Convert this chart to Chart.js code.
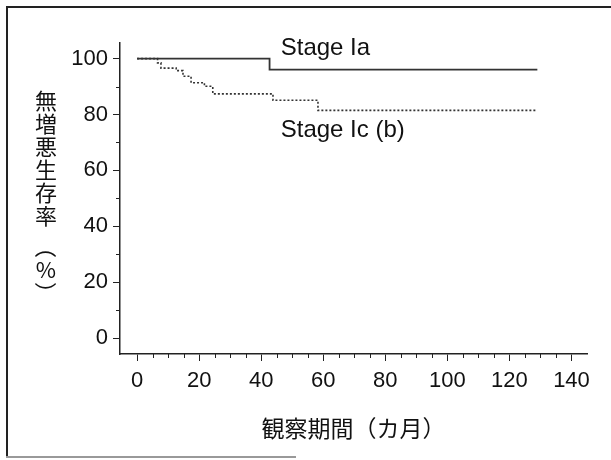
<!DOCTYPE html>
<html>
<head>
<meta charset="utf-8">
<script src="https://cdn.jsdelivr.net/npm/chart.js@4.4.1/dist/chart.umd.min.js"></script>
<style>
    body { margin: 0; background: #fff; }
    #wrap { position: relative; width: 611px; height: 460px; }
    #frame {
        position: absolute; left: 6px; top: 6px; width: 605px; height: 452px;
        border-left: 2px solid #222; border-top: 2px solid #222; box-sizing: border-box;
    }
    #frameBottom { position: absolute; left: 6px; top: 456px; width: 290px; border-top: 2px solid #999; }
</style>
</head>
<body>
<div id="wrap">
    <canvas id="survivalChart" width="611" height="460"></canvas>
    <div id="frame"></div>
    <div id="frameBottom"></div>
</div>
<script>
// Progression-free survival (months, %)
const stageIaMonths = [0, 42.7, 129];
const stageIaRates  = [100, 96.1, 96.1];
const stageIcMonths = [0, 6.6, 7.7, 12.6, 14.8, 17.4, 21.7, 24.4, 43.8, 58.3, 129];
const stageIcRates  = [100, 98.5, 96.6, 95.7, 93.7, 91.4, 90.1, 87.4, 85.1, 81.5, 81.5];

const xTicks = [0, 20, 40, 60, 80, 100, 120, 140];
const yTicks = [0, 20, 40, 60, 80, 100];
const xMinorTicks = [5, 10, 15, 25, 30, 35, 45, 50, 55, 65, 70, 75, 85, 90, 95, 105, 110, 115, 125, 130, 135];
const yMinorTicks = [10, 30, 50, 70, 90];

const seriesNames = ['Stage Ia', 'Stage Ic (b)'];
const xTitle = '観察期間（カ月）';
const yTitle = '無増悪生存率（%）';

const ink = '#222';
const latinFont = '"Liberation Sans", Arial, sans-serif';
const cjkFont = '"Noto Sans CJK JP", sans-serif';

function toPoints(xs, ys) {
    return xs.map((x, i) => ({ x: x, y: ys[i] }));
}

// short minor tick marks outside the axes
const minorTicks = {
    id: 'minorTicks',
    afterDraw(chart) {
        const ctx = chart.ctx;
        const xs = chart.scales.x, ys = chart.scales.y;
        ctx.save();
        ctx.strokeStyle = ink;
        ctx.lineWidth = 1;
        ctx.beginPath();
        xMinorTicks.forEach(v => {
            const px = Math.round(xs.getPixelForValue(v)) + 0.5;
            ctx.moveTo(px, xs.top);
            ctx.lineTo(px, xs.top + 4);
        });
        yMinorTicks.forEach(v => {
            const py = Math.round(ys.getPixelForValue(v)) + 0.5;
            ctx.moveTo(ys.right, py);
            ctx.lineTo(ys.right - 4, py);
        });
        ctx.stroke();
        ctx.restore();
    }
};

// y title written top-to-bottom, brackets turned sideways
const verticalTitle = {
    id: 'verticalTitle',
    afterDraw(chart) {
        const ctx = chart.ctx;
        ctx.save();
        ctx.fillStyle = '#111';
        ctx.font = '22px ' + cjkFont;
        ctx.textAlign = 'center';
        ctx.textBaseline = 'middle';
        let y = 101;
        [...yTitle].forEach(ch => {
            if (ch === '（') y += 8;
            if (ch === '（' || ch === '）') {
                ctx.save();
                ctx.translate(46, y);
                ctx.rotate(Math.PI / 2);
                ctx.fillText(ch, 0, 0);
                ctx.restore();
            } else {
                ctx.fillText(ch, 46, y);
            }
            y += 23;
        });
        ctx.restore();
    }
};

// curve labels placed in data space
const seriesLabels = {
    id: 'seriesLabels',
    afterDraw(chart) {
        const ctx = chart.ctx;
        const xs = chart.scales.x, ys = chart.scales.y;
        const spots = [[46.3, 101.4], [46.3, 72.1]];
        ctx.save();
        ctx.fillStyle = '#111';
        ctx.font = '24px ' + latinFont;
        ctx.textAlign = 'left';
        ctx.textBaseline = 'alphabetic';
        seriesNames.forEach((name, i) => {
            ctx.fillText(name, xs.getPixelForValue(spots[i][0]), ys.getPixelForValue(spots[i][1]));
        });
        ctx.restore();
    }
};

const ctx = document.getElementById('survivalChart').getContext('2d');
new Chart(ctx, {
    type: 'line',
    data: {
        datasets: [
            {
                label: seriesNames[0],
                data: toPoints(stageIaMonths, stageIaRates),
                stepped: true,
                borderColor: '#333',
                borderWidth: 1.8,
                pointRadius: 0,
                fill: false
            },
            {
                label: seriesNames[1],
                data: toPoints(stageIcMonths, stageIcRates),
                stepped: true,
                borderColor: '#333',
                borderWidth: 1.6,
                borderDash: [2, 2],
                pointRadius: 0,
                fill: false
            }
        ]
    },
    options: {
        responsive: false,
        animation: false,
        layout: { padding: { left: 0, top: 43, right: 24, bottom: 0 } },
        plugins: {
            legend: { display: false },
            tooltip: { enabled: false }
        },
        scales: {
            x: {
                type: 'linear',
                min: -5.5,
                max: 145,
                afterFit: function(scale) { scale.height = 106; },
                afterBuildTicks: function(scale) { scale.ticks = xTicks.map(v => ({ value: v })); },
                grid: { drawOnChartArea: false, drawTicks: true, tickLength: 7, tickColor: ink },
                border: { display: true, color: ink, width: 1.5 },
                ticks: {
                    color: '#111',
                    font: { family: latinFont, size: 22 },
                    padding: 7,
                    maxRotation: 0,
                    autoSkip: false
                },
                title: {
                    display: true,
                    text: xTitle,
                    color: '#111',
                    font: { family: cjkFont, size: 23 },
                    padding: { top: 0, bottom: 18 }
                }
            },
            y: {
                type: 'linear',
                min: -5.7,
                max: 105.6,
                afterFit: function(scale) { scale.width = 120; },
                afterBuildTicks: function(scale) { scale.ticks = yTicks.map(v => ({ value: v })); },
                grid: { drawOnChartArea: false, drawTicks: true, tickLength: 7, tickColor: ink },
                border: { display: true, color: ink, width: 1.5 },
                ticks: {
                    color: '#111',
                    font: { family: latinFont, size: 22 },
                    padding: 5,
                    autoSkip: false
                },
                title: { display: false }
            }
        }
    },
    plugins: [minorTicks, verticalTitle, seriesLabels]
});
</script>
</body>
</html>
